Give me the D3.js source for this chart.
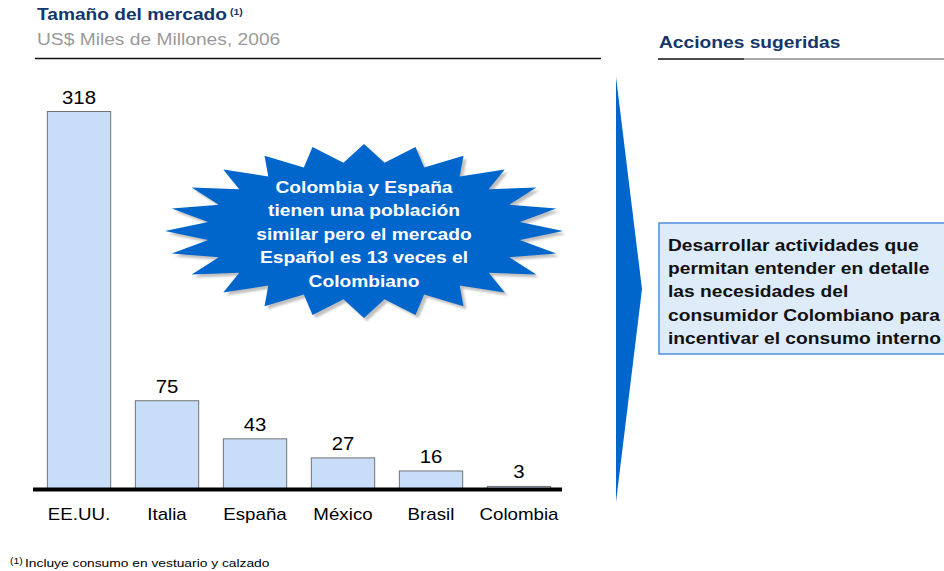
<!DOCTYPE html>
<html>
<head>
<meta charset="utf-8">
<script src="https://cdn.jsdelivr.net/npm/d3@7/dist/d3.min.js"></script>
<style>
  html, body { margin: 0; padding: 0; background: #fff; }
  svg { display: block; font-family: "Liberation Sans", Arial, sans-serif; }
</style>
</head>
<body>
<svg id="chart" width="944" height="571"></svg>
<script>
// Market size by country (US$ billions, 2006)
const categories = ["EE.UU.", "Italia", "España", "México", "Brasil", "Colombia"];
const values = [318, 75, 43, 27, 16, 3];

const titleText = "Tamaño del mercado";
const subtitleText = "US$ Miles de Millones, 2006";
const rightTitleText = "Acciones sugeridas";
const calloutLines = [
  "Colombia y España",
  "tienen una población",
  "similar pero el mercado",
  "Español es 13 veces el",
  "Colombiano"
];
const actionLines = [
  "Desarrollar actividades que",
  "permitan entender en detalle",
  "las necesidades del",
  "consumidor Colombiano para",
  "incentivar el consumo interno"
];
const footnoteText = "Incluye consumo en vestuario y calzado";

const svg = d3.select("#chart");
const NAVY = "#14366b";
const BLUE = "#0066cc";

// text helper: anchored at (x, y) with a slight horizontal stretch
function label(g, x, y, str, opts) {
  const o = Object.assign({ size: 17, sx: 1.13, weight: "normal", fill: "#000", anchor: "start" }, opts);
  return g.append("text")
    .attr("transform", `translate(${x},${y}) scale(${o.sx},1)`)
    .attr("font-size", o.size)
    .attr("font-weight", o.weight)
    .attr("fill", o.fill)
    .attr("text-anchor", o.anchor)
    .text(str);
}

// ---------- Left panel headers ----------
const head = svg.append("g");
label(head, 37, 19.5, titleText, { size: 16.5, sx: 1.16, weight: "bold", fill: NAVY });
label(head, 230, 15, "(1)", { size: 9.5, sx: 1.1, weight: "bold", fill: NAVY });
label(head, 37, 45, subtitleText, { size: 17, sx: 1.13, fill: "#9a9a9a" });
head.append("line").attr("x1", 35).attr("x2", 601).attr("y1", 58.5).attr("y2", 58.5)
  .attr("stroke", "#111").attr("stroke-width", 1.5);

// ---------- Bar chart ----------
const x = d3.scaleBand().domain(categories).range([35, 563]).paddingInner(0.28).paddingOuter(0.14);
const y = d3.scaleLinear().domain([0, 318]).range([490, 111.5]);

const bars = svg.append("g");
bars.selectAll("rect").data(values).join("rect")
  .attr("x", (d, i) => x(categories[i]))
  .attr("y", d => y(d))
  .attr("width", x.bandwidth())
  .attr("height", d => y(0) - y(d))
  .attr("fill", "#c8def8")
  .attr("stroke", "#737373")
  .attr("stroke-width", 1);

bars.selectAll("text.val").data(values).join(
  enter => enter.append("text").attr("class", "val")
)
  .attr("transform", (d, i) => `translate(${x(categories[i]) + x.bandwidth() / 2},${y(d) - 8}) scale(1.1,1)`)
  .attr("text-anchor", "middle")
  .attr("font-size", 18.5)
  .attr("fill", "#000")
  .text(d => d);

// axis baseline and category labels
const axis = svg.append("g").attr("transform", `translate(0,${y(0)})`)
  .call(d3.axisBottom(x).tickSize(0).tickPadding(0));
axis.select(".domain").remove();
axis.selectAll(".tick text").remove();
axis.selectAll(".tick").each(function(d) {
  label(d3.select(this), 0, 29.5, d, { size: 16, sx: 1.17, anchor: "middle" });
});
svg.append("line").attr("x1", 33).attr("x2", 562).attr("y1", 489.5).attr("y2", 489.5)
  .attr("stroke", "#000").attr("stroke-width", 4);

// ---------- Starburst callout ----------
const cx = 364, cy = 231, rx = 199, ry = 87, inner = 0.79, nPts = 24;
const starPts = d3.range(nPts * 2).map(k => {
  const a = Math.PI - k * Math.PI / nPts;
  const r = k % 2 === 0 ? 1 : inner;
  return [cx + rx * r * Math.cos(a), cy - ry * r * Math.sin(a)];
});
const starPath = d3.line().curve(d3.curveLinearClosed)(starPts);
svg.append("path").attr("d", starPath).attr("transform", "translate(3,3)")
  .attr("fill", "#8c8c8c").attr("opacity", 0.55)
  .attr("filter", "url(#soft)");
const defs = svg.append("defs");
defs.append("filter").attr("id", "soft").append("feGaussianBlur").attr("stdDeviation", 1.2);
svg.append("path").attr("d", starPath).attr("fill", BLUE);

const callout = svg.append("g");
calloutLines.forEach((t, i) => {
  label(callout, cx, 192.5 + i * 23.5, t, { size: 17, sx: 1.13, weight: "bold", fill: "#fff", anchor: "middle" });
});

// ---------- Right panel ----------
const right = svg.append("g");
label(right, 659, 47.5, rightTitleText, { size: 17, sx: 1.13, weight: "bold", fill: NAVY });
right.append("line").attr("x1", 658).attr("x2", 744).attr("y1", 59).attr("y2", 59)
  .attr("stroke", "#111").attr("stroke-width", 1.5);
right.append("line").attr("x1", 744).attr("x2", 944).attr("y1", 59).attr("y2", 59)
  .attr("stroke", "#8a8a8a").attr("stroke-width", 1.5);

// chevron separating the panels
right.append("path")
  .attr("d", d3.line()([[616, 77], [642, 289], [616, 502]]) + "Z")
  .attr("fill", BLUE);

// action box
right.append("rect").attr("x", 659).attr("y", 223).attr("width", 300).attr("height", 131)
  .attr("fill", "#deebf9").attr("stroke", "#4f8fdb").attr("stroke-width", 1.5);
actionLines.forEach((t, i) => {
  label(right, 668, 250.7 + i * 23.3, t, { size: 17, sx: 1.13, weight: "bold", fill: "#111" });
});

// ---------- Footnote ----------
const foot = svg.append("g");
label(foot, 10, 563.5, "(1)", { size: 9, sx: 1.15 });
label(foot, 25, 567.3, footnoteText, { size: 11.5, sx: 1.2 });
</script>
</body>
</html>
